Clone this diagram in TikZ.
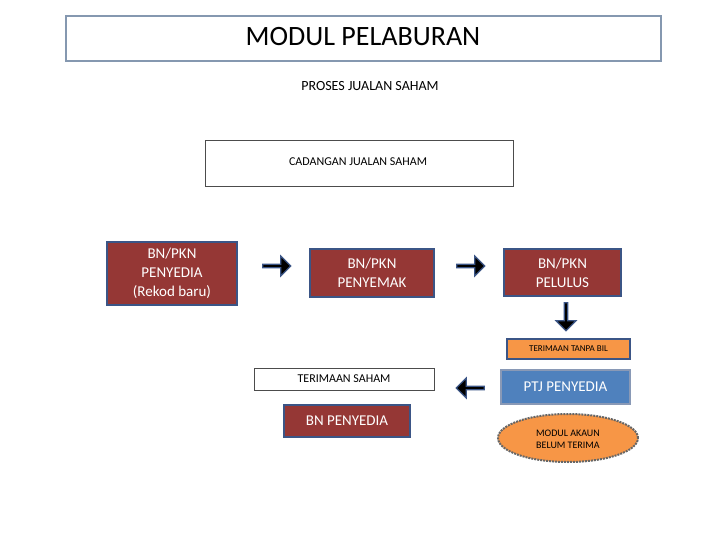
\documentclass[tikz,border=0pt]{standalone}
\usepackage{fontspec}
\setmainfont{Carlito}
\usetikzlibrary{shapes.arrows,shapes.geometric}
\definecolor{boxred}{HTML}{953735}
\definecolor{boxline}{HTML}{3B5586}
\definecolor{boxorange}{HTML}{F79646}
\definecolor{boxblue}{HTML}{4F81BD}
\tikzset{
  redbox/.style={draw=boxline,line width=1.8pt,fill=boxred,text=white,align=center,inner sep=0pt},
  whitebox/.style={draw=black!70,line width=0.5pt,fill=white,inner sep=0pt},
  blockarrow/.style={single arrow,draw=boxline,line width=1.2pt,fill=black,minimum height=28pt,
    minimum width=20pt,single arrow head extend=3pt,inner sep=0pt},
}
\begin{document}
\begin{tikzpicture}[x=1pt,y=-1pt]
\useasboundingbox (0,0) rectangle (720,540);
% title
\node[draw=black!35!boxblue!60,line width=1.5pt,minimum width=595pt,minimum height=45pt,inner sep=0pt]
  (title) at (363.5,38.5) {};
\node[font=\fontsize{28}{30}\selectfont] (titletext) at (363,37) {MODUL PELABURAN};
\node[font=\fontsize{14}{16}\selectfont] (proses) at (370,86) {PROSES JUALAN SAHAM};
\node[whitebox,minimum width=308pt,minimum height=46pt] (cadangan) at (359,163) {};
\node[font=\fontsize{12}{14}\selectfont] (cadtext) at (358,162) {CADANGAN JUALAN SAHAM};
% top row
\node[redbox,minimum width=130pt,minimum height=63pt,font=\fontsize{15}{19}\selectfont] (penyedia) at (172,273.5)
  {BN/PKN\\PENYEDIA\\(Rekod baru)};
\node[redbox,minimum width=124pt,minimum height=48pt,font=\fontsize{15}{19}\selectfont] (penyemak) at (372,273)
  {BN/PKN\\PENYEMAK};
\node[redbox,minimum width=117pt,minimum height=47pt,font=\fontsize{15}{19}\selectfont] (pelulus) at (562.5,272.5)
  {BN/PKN\\PELULUS};
\node[blockarrow] (arrA) at (276,266) {};
\node[blockarrow] (arrB) at (470,266) {};
\node[blockarrow,shape border rotate=270] (arrC) at (566,316) {};
% lower right
\node[draw=boxline,line width=1.8pt,fill=boxorange,minimum width=123pt,minimum height=20pt,inner sep=0pt,
  font=\fontsize{9}{10}\selectfont] (tanpabil) at (568.5,349) {TERIMAAN TANPA BIL};
\node[draw=boxline!60,line width=1.5pt,fill=boxblue,text=white,minimum width=129pt,minimum height=34pt,inner sep=0pt,
  font=\fontsize{15}{17}\selectfont] (ptj) at (565.5,387) {PTJ PENYEDIA};
\node[ellipse,draw=black!60,densely dotted,line width=2pt,fill=boxorange,minimum width=140pt,minimum height=48pt,
  inner sep=0pt,align=center,font=\fontsize{10}{12}\selectfont] (akaun) at (568,438) {};
\node[align=center,font=\fontsize{10}{12}\selectfont] (akauntext) at (568,439) {MODUL AKAUN\\BELUM TERIMA};
\node[blockarrow,shape border rotate=180] (arrD) at (471,388) {};
% lower left
\node[whitebox,minimum width=180pt,minimum height=22pt,font=\fontsize{12}{14}\selectfont] (terimaan) at (344,379)
  {TERIMAAN SAHAM};
\node[redbox,minimum width=126pt,minimum height=32pt,font=\fontsize{15}{17}\selectfont] (bnpenyedia) at (347,421)
  {BN PENYEDIA};
\end{tikzpicture}
\end{document}
